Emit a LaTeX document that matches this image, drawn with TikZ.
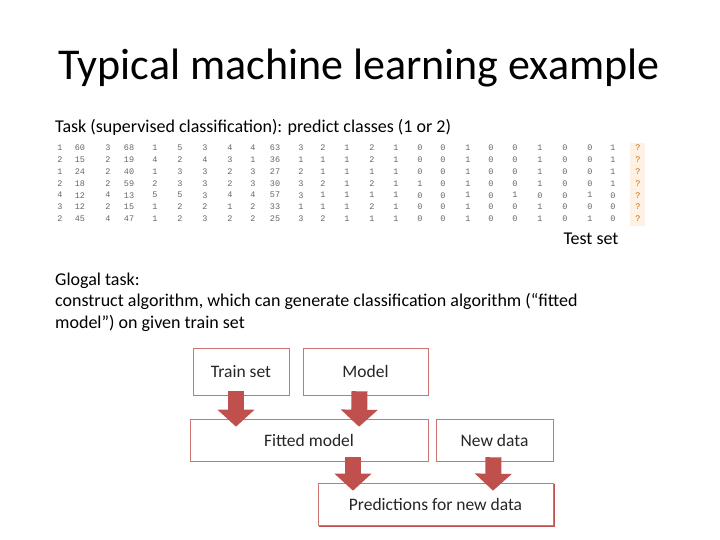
\documentclass[tikz,border=0pt]{standalone}
\usepackage{fontspec}
\setmainfont{Carlito}
\newfontfamily\tabfont{Liberation Mono}
\usetikzlibrary{arrows.meta,calc}
\definecolor{arr}{HTML}{C0504D}
\definecolor{bx}{HTML}{C0504D}
\begin{document}
\begin{tikzpicture}[x=1pt,y=-1pt,
  box/.style={draw=bx!80,line width=0.6pt,fill=white,inner sep=0pt,font=\fontsize{17.5}{20}\selectfont,text=black!85},
  barrow/.style={arr,line width=16pt,-{Triangle[width=36pt,length=17pt]},shorten >=0pt},
  txt/.style={anchor=west,inner sep=0pt,font=\fontsize{18}{21}\selectfont},
  cell/.style={font=\tabfont\fontsize{8.5}{9}\selectfont,text=black!60,inner sep=0pt}]
\useasboundingbox (0,0) rectangle (720,540);
\node[font=\fontsize{44}{50}\selectfont] (title) at (359,68) {Typical machine learning example};
\node[txt] (task) at (55,127) {Task (supervised classification): predict classes (1 or 2)};
% table
\fill[orange!10] (630,143) rectangle (645,226);
\def\xs{{60,80,108,129,155,180,205,230,253,275,301,323,347,372,396,420,443,468,491,515,540,565,590,613,638}}
\foreach \row [count=\r] in {
 {1,60,3,68,1,5,3,4,4,63,3,2,1,2,1,0,0,1,0,0,1,0,0,1,?},
 {2,15,2,19,4,2,4,3,1,36,1,1,1,2,1,0,0,1,0,0,1,0,0,1,?},
 {1,24,2,40,1,3,3,2,3,27,2,1,1,1,1,0,0,1,0,0,1,0,0,1,?},
 {2,18,2,59,2,3,3,2,3,30,3,2,1,2,1,1,0,1,0,0,1,0,0,1,?},
 {4,12,4,13,5,5,3,4,4,57,3,1,1,1,1,0,0,1,0,1,0,0,1,0,?},
 {3,12,2,15,1,2,2,1,2,33,1,1,1,2,1,0,0,1,0,0,1,0,0,0,?},
 {2,45,4,47,1,2,3,2,2,25,3,2,1,1,1,0,0,1,0,0,1,0,1,0,?}} {
  \foreach \v [count=\c] in \row {
    \pgfmathsetmacro\xx{\xs[\c-1]}
    \ifnum\c=25
      \node[cell,text=orange!80!black] (c\r-\c) at (\xx,{148+(\r-1)*11.8}) {\v};
    \else
      \node[cell] (c\r-\c) at (\xx,{148+(\r-1)*11.8}) {\v};
    \fi
  }
}
\node[font=\fontsize{18}{21}\selectfont] (test) at (591,239) {Test set};
\node[txt] (g1) at (55,281) {Glogal task:};
\node[txt] (g2) at (55,301) {construct algorithm, which can generate classification algorithm (“fitted};
\node[txt] (g3) at (55,323) {model”) on given train set};
% boxes
\node[box,minimum width=96,minimum height=47] (train) at (241,371.5) {Train set};
\node[box,minimum width=125,minimum height=47] (model) at (365.5,371.5) {Model};
\node[box,minimum width=238,minimum height=42] (fitted) at (309,440) {Fitted model};
\node[box,minimum width=117,minimum height=42] (new) at (494.5,440) {New data};
\draw[bx,line width=2pt] (319,526) -- (554,526) -- (554,484);
\node[box,minimum width=235,minimum height=42] (pred) at (435.5,504) {Predictions for new data};
% arrows
\draw[barrow] ($(train.south)+(-5,-4)$) -- ($(fitted.north -| 236,0)+(0,8)$);
\draw[barrow] ($(model.south)+(-6,-4)$) -- ($(fitted.north -| 359,0)+(0,8)$);
\draw[barrow] ($(fitted.south -| 353,0)+(0,-4)$) -- ($(pred.north -| 353,0)+(0,8)$);
\draw[barrow] ($(new.south)+(-1,-4)$) -- ($(pred.north -| 493,0)+(0,8)$);
\end{tikzpicture}
\end{document}
